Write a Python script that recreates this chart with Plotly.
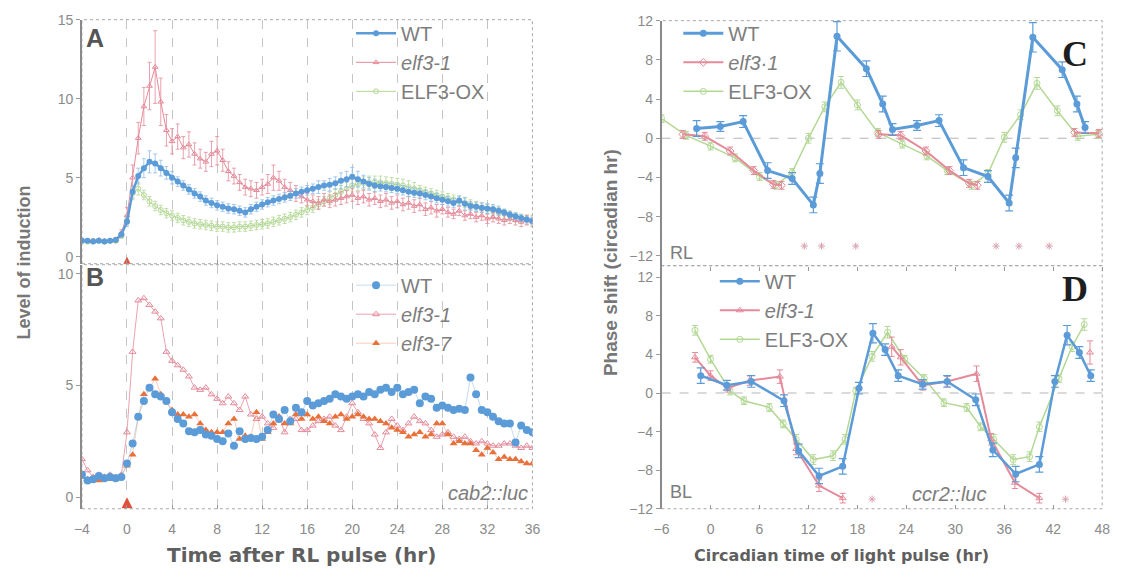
import plotly.graph_objects as go

W, H = 1124, 579
FONT = "Liberation Sans"
GREY = "#7d7d7d"
BLUE = "#5b9bd8"
PINK = "#e58a99"
GREEN = "#b3d894"
ORANGE = "#e8703a"
RED = "#e0503a"

# ---------------- Panel A / B : time after RL pulse (hr), every 0.5 h ----------------
TIME = [round(-4 + 0.5 * i, 1) for i in range(81)]

A_WT = [1.0, 1.0, 0.95, 1.0, 0.95, 1.0, 1.05, 1.4,
        2.2, 4.1, 5.1, 5.6, 6.0, 5.9, 5.6, 5.3,
        5.0, 4.75, 4.5, 4.25, 4.0, 3.8, 3.55, 3.4,
        3.25, 3.15, 3.05, 3.0, 2.9, 2.8, 3.0, 3.15,
        3.3, 3.45, 3.55, 3.65, 3.75, 3.85, 4.0, 4.1,
        4.2, 4.3, 4.4, 4.5, 4.55, 4.65, 4.8, 4.9,
        5.05, 4.9, 4.75, 4.6, 4.5, 4.45, 4.4, 4.35,
        4.3, 4.2, 4.1, 4.05, 4.0, 3.9, 3.8, 3.7,
        3.6, 3.5, 3.4, 3.55, 3.35, 3.2, 3.15, 3.1,
        3.05, 3.0, 2.9, 2.8, 2.65, 2.55, 2.45, 2.35,
        2.25]
A_WT_ERR = [0.1, 0.1, 0.1, 0.1, 0.1, 0.1, 0.1, 0.15,
            0.3, 0.4, 0.5, 0.6, 0.7, 0.6, 0.5, 0.4,
            0.4, 0.3, 0.3, 0.3, 0.3, 0.3, 0.3, 0.3,
            0.3, 0.3, 0.3, 0.3, 0.3, 0.3, 0.3, 0.3,
            0.3, 0.3, 0.3, 0.3, 0.3, 0.3, 0.3, 0.3,
            0.3, 0.3, 0.4, 0.3, 0.4, 0.4, 0.5, 0.5,
            0.6, 0.5, 0.4, 0.4, 0.4, 0.3, 0.3, 0.3,
            0.3, 0.3, 0.3, 0.3, 0.3, 0.3, 0.3, 0.3,
            0.3, 0.3, 0.3, 0.3, 0.4, 0.3, 0.3, 0.3,
            0.3, 0.3, 0.3, 0.2, 0.2, 0.2, 0.2, 0.2,
            0.2]
A_ELF31 = [1.05, 1.0, 1.0, 1.05, 1.0, 1.0, 1.1, 1.5,
           2.6, 5.0, 7.5, 9.5, 10.8, 12.0, 9.8, 8.0,
           7.3, 7.6, 6.9, 7.1, 6.5, 6.2, 6.0, 6.5,
           6.7, 6.1, 5.4, 5.1, 4.7, 4.4, 4.3, 4.2,
           4.4, 4.6, 5.0, 4.8, 4.4, 4.2, 4.0, 3.8,
           3.6, 3.5, 3.4, 3.6, 3.5, 3.6, 3.7, 3.8,
           3.9, 3.7, 3.8, 3.6, 3.7, 3.5, 3.6, 3.4,
           3.5, 3.3, 3.4, 3.2, 3.3, 3.0, 3.1, 2.9,
           3.0, 2.8, 2.7, 2.9, 2.6, 2.7, 2.5, 2.6,
           2.4, 2.5, 2.4, 2.3, 2.4, 2.3, 2.2, 2.3,
           2.2]
A_ELF31_ERR = [0.1, 0.1, 0.1, 0.1, 0.1, 0.1, 0.1, 0.2,
               0.5, 0.8, 1.0, 1.2, 1.5, 2.3, 1.5, 1.0,
               0.8, 0.8, 0.7, 0.8, 0.7, 0.6, 0.6, 0.8,
               0.9, 0.7, 0.6, 0.5, 0.5, 0.5, 0.5, 0.5,
               0.5, 0.6, 0.8, 0.6, 0.5, 0.5, 0.5, 0.4,
               0.4, 0.4, 0.4, 0.4, 0.4, 0.4, 0.4, 0.4,
               0.4, 0.4, 0.4, 0.4, 0.4, 0.4, 0.4, 0.4,
               0.4, 0.4, 0.4, 0.4, 0.4, 0.4, 0.4, 0.4,
               0.3, 0.3, 0.3, 0.3, 0.3, 0.3, 0.3, 0.3,
               0.3, 0.3, 0.3, 0.3, 0.3, 0.3, 0.3, 0.3,
               0.3]
A_OX = [1.0, 0.95, 1.0, 1.0, 0.95, 1.0, 1.0, 1.3,
        2.3, 4.0, 4.3, 3.9, 3.5, 3.2, 2.95, 2.75,
        2.6, 2.45, 2.3, 2.2, 2.1, 2.05, 2.0, 1.95,
        1.9, 1.9, 1.85, 1.85, 1.9, 1.9, 1.95, 2.0,
        2.05, 2.1, 2.2, 2.3, 2.4, 2.5, 2.65, 2.8,
        2.95, 3.1, 3.3, 3.5, 3.7, 3.9, 4.1, 4.3,
        4.5, 4.6, 4.65, 4.7, 4.7, 4.7, 4.65, 4.6,
        4.55, 4.5, 4.4, 4.3, 4.2, 4.1, 4.0, 3.9,
        3.8, 3.7, 3.6, 3.5, 3.4, 3.3, 3.2, 3.1,
        3.0, 2.9, 2.8, 2.7, 2.6, 2.5, 2.4, 2.35,
        2.3]
A_OX_ERR = [0.1, 0.1, 0.1, 0.1, 0.1, 0.1, 0.1, 0.1,
            0.3, 0.4, 0.4, 0.3, 0.3, 0.3, 0.3, 0.3,
            0.3, 0.3, 0.3, 0.3, 0.3, 0.3, 0.3, 0.3,
            0.3, 0.3, 0.3, 0.3, 0.3, 0.3, 0.3, 0.3,
            0.3, 0.3, 0.3, 0.3, 0.3, 0.3, 0.3, 0.3,
            0.3, 0.3, 0.3, 0.3, 0.4, 0.4, 0.4, 0.4,
            0.4, 0.4, 0.4, 0.4, 0.4, 0.4, 0.4, 0.4,
            0.4, 0.4, 0.4, 0.4, 0.3, 0.3, 0.3, 0.3,
            0.3, 0.3, 0.3, 0.3, 0.3, 0.3, 0.3, 0.3,
            0.3, 0.3, 0.3, 0.3, 0.3, 0.3, 0.3, 0.3,
            0.3]

B_WT = [1.0, 0.75, 0.8, 0.95, 0.85, 0.9, 0.85, 0.9,
        1.5, 2.4, 3.6, 4.3, 4.9, 4.6, 4.5, 4.3,
        3.8, 3.5, 3.3, 2.95, 2.9, 3.0, 2.8, 2.75,
        2.6, 2.5, 2.85, 2.3, 2.95, 2.6, 2.65, 2.6,
        2.7, 3.0, 3.7, 3.5, 3.9, 3.4, 4.0, 3.8,
        4.3, 4.1, 4.2, 4.3, 4.4, 4.6, 4.5, 4.4,
        4.5, 4.6, 4.5, 4.7, 4.6, 4.8, 4.9, 4.7,
        4.9, 4.6, 4.7, 4.8, 4.2, 4.5, 4.4, 4.0,
        4.1, 4.0, 3.9, 3.95, 3.9, 5.35, 4.6, 3.9,
        3.8, 3.6, 3.4, 3.3, 3.3, 2.45, 3.2, 3.0,
        2.9]
B_ELF31 = [1.7, 1.2, 0.9, 1.0, 0.9, 1.0, 0.9, 1.0,
           2.9, 6.5, 8.8, 8.9, 8.6, 8.3, 8.0, 6.5,
           6.1, 5.9, 5.7, 5.4, 4.9, 4.8, 4.9, 4.6,
           4.4, 4.2, 4.5, 4.2, 3.9, 4.5, 3.7, 3.5,
           3.6, 3.3, 3.1, 3.6, 2.9, 3.5, 3.5, 3.0,
           3.0, 3.2, 3.4, 3.5, 3.6, 3.2, 3.0, 3.6,
           4.2, 3.8, 3.5, 3.3, 2.8, 2.2, 2.9, 3.5,
           3.2, 3.0, 3.3, 3.6, 3.4, 3.3, 3.0, 2.7,
           2.8, 2.9, 2.7, 2.6, 2.7, 2.5, 2.4, 2.5,
           2.4, 2.3, 2.3, 2.4, 2.4, 2.3, 2.2, 2.3,
           2.2]
B_ELF37 = [0.9, 0.8, 0.85, 0.75, 0.9, 0.8, 0.85, 0.95,
           1.4, 1.9, 3.6, 4.6, 4.9, 5.3, 4.6, 4.3,
           3.9, 3.7, 3.7, 3.6, 3.7, 3.3, 3.0, 2.9,
           2.9, 2.9, 3.3, 3.5, 2.6, 2.75, 2.7, 3.8,
           2.6, 2.9, 3.3, 3.6, 3.3, 3.3, 3.7, 3.5,
           3.7, 3.5, 3.6, 3.4, 3.3, 3.6, 3.7, 3.5,
           3.6, 3.7, 3.6, 3.5, 3.5, 3.4, 3.3, 3.1,
           3.0, 2.9, 2.7, 2.8, 2.9, 2.7, 2.8, 3.3,
           3.3, 2.8, 2.4, 2.5, 2.4, 2.4, 2.1, 1.9,
           2.2, 2.0, 1.7, 1.8, 1.7, 1.7, 1.6, 1.5,
           1.5]

PULSE_TIME = [0]
PULSE_LEVEL = [0]

# ---------------- Panel C (RL) / D (BL): phase response curves ----------------
C_WT_X = [-1.7, 1.2, 4.0, 7.0, 10.0, 12.6, 13.4, 15.5, 19.1, 21.1, 22.3, 25.3, 28.0, 31.0, 34.0, 36.6, 37.4, 39.5, 43.1, 44.9, 45.9]
C_WT_Y = [1.0, 1.2, 1.7, -3.3, -4.1, -6.8, -3.6, 10.4, 7.1, 3.5, 0.9, 1.3, 1.8, -3.0, -3.9, -6.6, -2.0, 10.3, 7.0, 3.5, 1.1]
C_WT_ERR = [0.8, 0.5, 0.6, 0.8, 0.6, 0.8, 1.0, 1.5, 0.8, 0.8, 0.6, 0.5, 0.6, 0.8, 0.6, 0.8, 1.0, 1.5, 0.8, 0.8, 0.6]
C_ELF31_X = [-3.4, -0.7, 2.4, 5.3, 7.7, 8.7, 14.0, 20.6, 23.3, 26.4, 29.3, 31.7, 32.7, 38.0, 44.6, 47.6]
C_ELF31_Y = [0.4, 0.2, -1.3, -3.3, -4.7, -4.8, None, 0.4, 0.3, -1.3, -3.3, -4.6, -4.8, None, 0.6, 0.5]
C_ELF31_ERR = [0.4, 0.4, 0.4, 0.4, 0.4, 0.4, 0, 0.4, 0.4, 0.4, 0.4, 0.4, 0.4, 0, 0.4, 0.4]
C_OX_X = [-6, -3, 0, 3, 6, 8, 10, 12, 14, 16, 18, 20.5, 23.5, 26.5, 29, 32, 34, 36, 38, 40, 42.5, 45, 47.5]
C_OX_Y = [2.0, 0.3, -0.8, -2.0, -3.9, -4.8, -3.5, 0.0, 3.2, 5.7, 3.4, 0.6, -0.6, -1.8, -3.3, -4.8, -3.6, 0.1, 2.4, 5.6, 2.8, 0.2, 0.4]
C_OX_ERR = [0.4, 0.4, 0.4, 0.4, 0.4, 0.4, 0.4, 0.5, 0.5, 0.6, 0.5, 0.4, 0.4, 0.4, 0.4, 0.4, 0.4, 0.5, 0.5, 0.6, 0.5, 0.4, 0.4]
C_SIG_X = [11.5, 13.6, 17.8, 35.0, 37.8, 41.5]
C_SIG_Y = [-11, -11, -11, -11, -11, -11]

D_WT_X = [-1.2, 2.0, 5.0, 9.0, 10.8, 13.3, 16.2, 18.2, 19.9, 21.4, 23.0, 26.0, 29.0, 32.5, 34.6, 37.4, 40.3, 42.2, 43.7, 45.2, 46.6]
D_WT_Y = [1.8, 0.8, 1.2, -0.8, -6.0, -8.6, -7.6, 0.5, 6.2, 4.5, 1.8, 0.9, 1.2, -0.7, -5.9, -8.4, -7.4, 1.2, 6.0, 4.2, 1.8]
D_WT_ERR = [0.8, 0.5, 0.6, 0.6, 0.7, 0.8, 0.8, 0.6, 1.0, 0.6, 0.6, 0.5, 0.6, 0.6, 0.7, 0.8, 0.8, 0.6, 1.0, 0.6, 0.6]
D_ELF31_X = [-1.9, 0.0, 2.1, 4.8, 8.5, 10.5, 13.3, 16.2, 19.0, 22.2, 23.3, 26.0, 29.0, 32.6, 34.4, 37.3, 40.3, 43.0, 46.5]
D_ELF31_Y = [3.7, 1.8, 0.5, 1.3, 1.7, -5.8, -9.6, -10.9, None, 4.8, 3.7, 0.8, 1.2, 2.0, -4.8, -9.3, -10.9, None, 4.2]
D_ELF31_ERR = [0.5, 0.5, 0.4, 0.5, 0.7, 0.6, 0.6, 0.5, 0, 1.0, 0.8, 0.5, 0.5, 0.8, 0.6, 0.6, 0.5, 0, 1.2]
D_OX_X = [-1.9, 0.0, 2.4, 4.1, 7.2, 8.9, 10.5, 12.6, 15.0, 16.5, 17.8, 19.8, 21.7, 23.8, 26.2, 28.6, 31.4, 33.1, 34.7, 37.1, 39.1, 40.3, 42.7, 44.3, 45.8]
D_OX_Y = [6.5, 3.5, 0.2, -0.8, -1.5, -3.2, -4.8, -6.9, -6.5, -4.8, 0.2, 3.8, 6.3, 3.5, 1.5, -1.0, -1.5, -3.5, -4.8, -6.9, -6.6, -3.5, 1.5, 4.8, 7.1]
D_OX_ERR = [0.5, 0.4, 0.4, 0.4, 0.4, 0.4, 0.5, 0.5, 0.5, 0.5, 0.4, 0.5, 0.6, 0.4, 0.4, 0.4, 0.4, 0.4, 0.5, 0.5, 0.5, 0.5, 0.4, 0.5, 0.6]
D_SIG_X = [19.8, 43.5]
D_SIG_Y = [-11, -11]

LEFT_XTICKS = [-4, 0, 4, 8, 12, 16, 20, 24, 28, 32, 36]
RIGHT_XTICKS = [-6, 0, 6, 12, 18, 24, 30, 36, 42, 48]
PRC_YTICKS = [-12, -8, -4, 0, 4, 8, 12]

fig = go.Figure()


def err(arr, color, thick=0.8, width=2):
    return dict(type="data", array=arr, color=color, thickness=thick, width=width, visible=True)


# ---- Panel A
fig.add_trace(go.Scatter(x=TIME, y=A_OX, mode="lines+markers", name="ELF3-OX",
                         line=dict(color=GREEN, width=1),
                         marker=dict(symbol="circle-open", size=5, color=GREEN, line=dict(width=1)),
                         error_y=err(A_OX_ERR, GREEN), xaxis="x", yaxis="y",
                         legend="legend", legendgroup="a3", legendrank=3))
fig.add_trace(go.Scatter(x=TIME, y=A_ELF31, mode="lines+markers", name="<i>elf3-1</i>",
                         line=dict(color=PINK, width=1),
                         marker=dict(symbol="triangle-up-open", size=5, color=PINK, line=dict(width=1)),
                         error_y=err(A_ELF31_ERR, PINK), xaxis="x", yaxis="y",
                         legend="legend", legendgroup="a2", legendrank=2))
fig.add_trace(go.Scatter(x=TIME, y=A_WT, mode="lines+markers", name="WT",
                         line=dict(color=BLUE, width=2.5),
                         marker=dict(symbol="circle", size=6, color=BLUE),
                         error_y=err(A_WT_ERR, "#8fbbe8"), xaxis="x", yaxis="y",
                         legend="legend", legendgroup="a1", legendrank=1))
fig.add_trace(go.Scatter(x=PULSE_TIME, y=PULSE_LEVEL, mode="markers", showlegend=False,
                         marker=dict(symbol="arrow-up", size=11, color=RED), xaxis="x", yaxis="y"))

# ---- Panel B
fig.add_trace(go.Scatter(x=TIME, y=B_ELF31, mode="lines+markers", name="<i>elf3-1</i>",
                         line=dict(color=PINK, width=0.8),
                         marker=dict(symbol="triangle-up-open", size=6, color=PINK, line=dict(width=1)),
                         xaxis="x2", yaxis="y2", legend="legend2", legendgroup="b2", legendrank=2))
fig.add_trace(go.Scatter(x=TIME, y=B_ELF37, mode="lines+markers", name="<i>elf3-7</i>",
                         line=dict(color="rgba(232,112,58,0.45)", width=0.8),
                         marker=dict(symbol="triangle-up", size=7, color=ORANGE),
                         xaxis="x2", yaxis="y2", legend="legend2", legendgroup="b3", legendrank=3))
fig.add_trace(go.Scatter(x=TIME, y=B_WT, mode="lines+markers", name="WT",
                         line=dict(color="rgba(91,155,216,0.45)", width=0.8),
                         marker=dict(symbol="circle", size=8, color=BLUE),
                         xaxis="x2", yaxis="y2", legend="legend2", legendgroup="b1", legendrank=1))
fig.add_trace(go.Scatter(x=PULSE_TIME, y=PULSE_LEVEL, mode="markers", showlegend=False,
                         marker=dict(symbol="arrow-up", size=11, color=RED), xaxis="x2", yaxis="y2"))

# ---- Panel C
fig.add_trace(go.Scatter(x=C_OX_X, y=C_OX_Y, mode="lines+markers", name="ELF3-OX",
                         line=dict(color=GREEN, width=1.5),
                         marker=dict(symbol="circle-open", size=6, color=GREEN, line=dict(width=1)),
                         error_y=err(C_OX_ERR, GREEN, 1, 3), xaxis="x3", yaxis="y3",
                         legend="legend3", legendgroup="c3", legendrank=3))
fig.add_trace(go.Scatter(x=C_ELF31_X, y=C_ELF31_Y, mode="lines+markers", name="<i>elf3·1</i>",
                         line=dict(color=PINK, width=2), connectgaps=False,
                         marker=dict(symbol="diamond-open", size=6, color=PINK, line=dict(width=1)),
                         error_y=err(C_ELF31_ERR, PINK, 1, 3), xaxis="x3", yaxis="y3",
                         legend="legend3", legendgroup="c2", legendrank=2))
fig.add_trace(go.Scatter(x=C_WT_X, y=C_WT_Y, mode="lines+markers", name="WT",
                         line=dict(color=BLUE, width=3),
                         marker=dict(symbol="circle", size=7, color=BLUE),
                         error_y=err(C_WT_ERR, BLUE, 1.2, 4), xaxis="x3", yaxis="y3",
                         legend="legend3", legendgroup="c1", legendrank=1))
fig.add_trace(go.Scatter(x=C_SIG_X, y=C_SIG_Y, mode="markers", showlegend=False,
                         marker=dict(symbol="asterisk-open", size=6, color="#d9a3b0", line=dict(width=1, color="#d9a3b0")),
                         xaxis="x3", yaxis="y3"))

# ---- Panel D
fig.add_trace(go.Scatter(x=D_OX_X, y=D_OX_Y, mode="lines+markers", name="ELF3-OX",
                         line=dict(color=GREEN, width=1.5),
                         marker=dict(symbol="circle-open", size=6, color=GREEN, line=dict(width=1)),
                         error_y=err(D_OX_ERR, GREEN, 1, 3), xaxis="x4", yaxis="y4",
                         legend="legend4", legendgroup="d3", legendrank=3))
fig.add_trace(go.Scatter(x=D_ELF31_X, y=D_ELF31_Y, mode="lines+markers", name="<i>elf3-1</i>",
                         line=dict(color=PINK, width=2), connectgaps=False,
                         marker=dict(symbol="triangle-up-open", size=6, color=PINK, line=dict(width=1)),
                         error_y=err(D_ELF31_ERR, PINK, 1, 3), xaxis="x4", yaxis="y4",
                         legend="legend4", legendgroup="d2", legendrank=2))
fig.add_trace(go.Scatter(x=D_WT_X, y=D_WT_Y, mode="lines+markers", name="WT",
                         line=dict(color=BLUE, width=2.5),
                         marker=dict(symbol="circle", size=7, color=BLUE),
                         error_y=err(D_WT_ERR, BLUE, 1.2, 4), xaxis="x4", yaxis="y4",
                         legend="legend4", legendgroup="d1", legendrank=1))
fig.add_trace(go.Scatter(x=D_SIG_X, y=D_SIG_Y, mode="markers", showlegend=False,
                         marker=dict(symbol="asterisk-open", size=6, color="#d9a3b0", line=dict(width=1, color="#d9a3b0")),
                         xaxis="x4", yaxis="y4"))

# ---------------- layout ----------------
LX = [75 / W, 532 / W]
RX = [663 / W, 1110 / W]
A_DOM = [1 - 263 / H, 1 - 12 / H]
B_DOM = [1 - 515 / H, 1 - 264 / H]
C_DOM = [1 - 265 / H, 1 - 13 / H]
D_DOM = [1 - 515 / H, 1 - 265 / H]

tickfont = dict(family=FONT, size=14, color="#8a8a8a")

xcommon = dict(showline=False, zeroline=False, tickfont=tickfont, tickcolor="#999", ticklen=4,
               ticklabelstandoff=10)
ycommon = dict(showline=True, linecolor="#8a8a8a", linewidth=1.5, zeroline=False, showgrid=False,
               ticks="outside", ticklen=4, tickcolor="#999", tickfont=tickfont)

grid = dict(showgrid=True, gridcolor="#c4c4c4", griddash="dash", gridwidth=1)

fig.update_layout(
    width=W, height=H, autosize=False,
    margin=dict(l=0, r=0, t=0, b=0),
    paper_bgcolor="white", plot_bgcolor="white",
    font=dict(family=FONT, color=GREY),
    xaxis=dict(domain=LX, range=[-4, 36], anchor="y", tickvals=LEFT_XTICKS, showticklabels=False,
               ticks="inside", **grid, **xcommon),
    yaxis=dict(domain=A_DOM, range=[-0.45, 15], anchor="x", tickvals=[0, 5, 10, 15], **ycommon),
    xaxis2=dict(domain=LX, range=[-4, 36], anchor="y2", tickvals=LEFT_XTICKS, ticks="inside",
                **grid, **xcommon),
    yaxis2=dict(domain=B_DOM, range=[-0.52, 10.4], anchor="x2", tickvals=[0, 5, 10], **ycommon),
    xaxis3=dict(domain=RX, range=[-6, 48], anchor="y3", tickvals=RIGHT_XTICKS, showticklabels=False,
                ticks="outside", showgrid=False, **xcommon),
    yaxis3=dict(domain=C_DOM, range=[-13, 12], anchor="x3", tickvals=PRC_YTICKS, **ycommon),
    xaxis4=dict(domain=RX, range=[-6, 48], anchor="y4", tickvals=RIGHT_XTICKS, ticks="inside",
                showgrid=False, **xcommon),
    yaxis4=dict(domain=D_DOM, range=[-12, 13.2], anchor="x4", tickvals=PRC_YTICKS, **ycommon),
    showlegend=True,
)

legend_common = dict(xanchor="left", yanchor="top", bgcolor="rgba(0,0,0,0)",
                     font=dict(family=FONT, size=20, color=GREY), itemwidth=40,
                     itemclick=False, itemdoubleclick=False, tracegroupgap=0)
fig.update_layout(
    legend=dict(x=348 / W, y=1 - 6 / H, **legend_common),
    legend2=dict(x=348 / W, y=1 - 265 / H, **legend_common),
    legend3=dict(x=680 / W, y=1 - 6 / H, **legend_common),
    legend4=dict(x=717 / W, y=1 - 261 / H, **legend_common),
)

# panel frames (dotted) and zero reference lines
shapes = []
for xa, ya in [("x", "y"), ("x2", "y2"), ("x3", "y3"), ("x4", "y4")]:
    shapes.append(dict(type="rect", xref=f"{xa} domain", yref=f"{ya} domain", x0=0, x1=1, y0=0, y1=1,
                       line=dict(color="#a8a8a8", width=1, dash="dot"), layer="below"))
for xa, ya in [("x3", "y3"), ("x4", "y4")]:
    shapes.append(dict(type="line", xref=f"{xa} domain", yref=ya, x0=0, x1=1, y0=0, y1=0,
                       line=dict(color="#b5b5b5", width=1, dash="dash"), layer="below"))
fig.update_layout(shapes=shapes)

ann = []


def txt(text, x, y, size, color=GREY, xanchor="center", family=FONT, textangle=0):
    ann.append(dict(text=text, x=x / W, y=1 - y / H, xref="paper", yref="paper", showarrow=False,
                    xanchor=xanchor, yanchor="middle", textangle=textangle,
                    font=dict(family=family, size=size, color=color)))


txt("<b>A</b>", 77, 31, 25, "#555", "left")
txt("<b>B</b>", 77, 277, 25, "#555", "left")
txt("<b>C</b>", 1082, 47, 36, "#1e1e1e", "center", "Liberation Serif")
txt("<b>D</b>", 1082, 289, 36, "#1e1e1e", "center", "Liberation Serif")
txt("RL", 670, 252, 18, GREY, "left")
txt("BL", 670, 498, 18, GREY, "left")
txt("<i>ccr2::luc</i>", 955, 500, 20, GREY)
txt("<i>cab2::luc</i>", 487, 499, 20, GREY)
txt("<b>Level of induction</b>", 16, 262, 18, "#777", "center", FONT, -90)
txt("<b>Phase shift (circadian hr)</b>", 611, 262, 19, "#777", "center", FONT, -90)
txt("<b>Time after RL pulse (hr)</b>", 298, 563, 20, "#5f5f5f", "center", "DejaVu Sans")
txt("<b>Circadian time of light pulse (hr)</b>", 846, 563, 16, "#5f5f5f", "center", "DejaVu Sans")
fig.update_layout(annotations=ann)

fig.write_html("out.html")
